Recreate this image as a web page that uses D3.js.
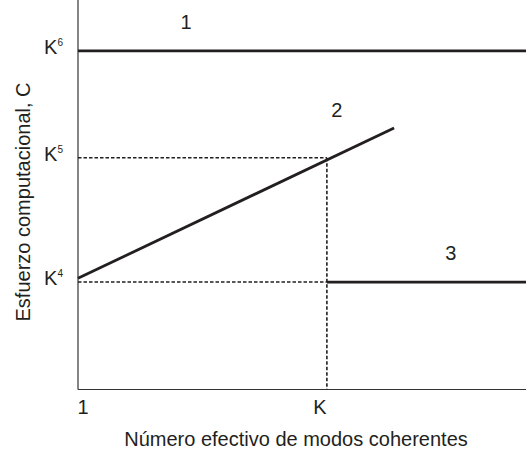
<!DOCTYPE html>
<html><head><meta charset="utf-8">
<script src="https://cdn.jsdelivr.net/npm/d3@7"></script>
<style>body{margin:0;background:#fff}svg{display:block}text{font-family:"Liberation Sans",Arial,sans-serif;fill:#231f20}</style>
</head><body><svg id="c" width="526" height="454"></svg>
<script>
// x: 0 = "1", 1 = "K"; y: exponent of K (log_K of effort)
const xTickValues = [0, 1];
const xTickLabels = ["1", "K"];
const yTickValues = [5.86, 5, 4];
const yTickBase = ["K", "K", "K"];
const yTickExp = ["6", "5", "4"];
const curve1 = [{x: 0, y: 5.86}, {x: 1.8, y: 5.86}];
const curve2 = [{x: 0, y: 4.03}, {x: 1.27, y: 5.24}];
const curve3 = [{x: 1, y: 4}, {x: 1.8, y: 4}];
const guideK5 = [{x: 0, y: 5}, {x: 1, y: 5}];
const guideK4 = [{x: 0, y: 4}, {x: 1, y: 4}];
const guideK = [{x: 1, y: 5}, {x: 1, y: 3.135}];
const curveNames = ["1", "2", "3"];
const curveNameX = [0.434, 1.04, 1.498];
const curveNameY = [6.04, 5.33, 4.18];
const xTitle = "Número efectivo de modos coherentes";
const yTitle = "Esfuerzo computacional, C";

const svg = d3.select("#c");
const x = d3.scaleLinear().domain([0, 1.8]).range([78, 526]);
const y = d3.scaleLinear().domain([3.135, 6.27]).range([389.5, 0]);
const line = d3.line().x(d => x(d.x)).y(d => y(d.y));

// axes
svg.append("line").attr("x1", x(0)).attr("x2", x(0)).attr("y1", y(3.135)).attr("y2", y(6.27))
  .attr("stroke", "#333").attr("stroke-width", 1.2);
svg.append("line").attr("x1", x(0)).attr("x2", x(1.8)).attr("y1", y(3.135)).attr("y2", y(3.135))
  .attr("stroke", "#333").attr("stroke-width", 1.2);

// guides
[guideK5, guideK4, guideK].forEach(g => {
  svg.append("path").attr("d", line(g)).attr("fill", "none").attr("stroke", "#231f20")
    .attr("stroke-width", 1.6).attr("stroke-dasharray", "3.5,2");
});

// curves
[curve1, curve2, curve3].forEach(c => {
  svg.append("path").attr("d", line(c)).attr("fill", "none").attr("stroke", "#231f20")
    .attr("stroke-width", 2.8);
});

// x tick labels
const xdx = [5, -7];
xTickValues.forEach((v, i) => {
  svg.append("text").attr("x", x(v) + xdx[i]).attr("y", 414).attr("text-anchor", "middle")
    .attr("font-size", 20).text(xTickLabels[i]);
});

// y tick labels
yTickValues.forEach((v, i) => {
  const t = svg.append("text").attr("x", 63).attr("y", y(v) + 3).attr("text-anchor", "end")
    .attr("font-size", 20);
  t.append("tspan").text(yTickBase[i]);
  t.append("tspan").attr("font-size", 10).attr("dy", -8).text(yTickExp[i]);
});

// curve names
curveNames.forEach((n, i) => {
  svg.append("text").attr("x", x(curveNameX[i])).attr("y", y(curveNameY[i]))
    .attr("text-anchor", "middle").attr("font-size", 20).text(n);
});

// titles
svg.append("text").attr("x", 296).attr("y", 446).attr("text-anchor", "middle")
  .attr("font-size", 20).text(xTitle);
svg.append("text").attr("transform", "translate(30,202) rotate(-90)").attr("text-anchor", "middle")
  .attr("font-size", 20).text(yTitle);
</script></body></html>
